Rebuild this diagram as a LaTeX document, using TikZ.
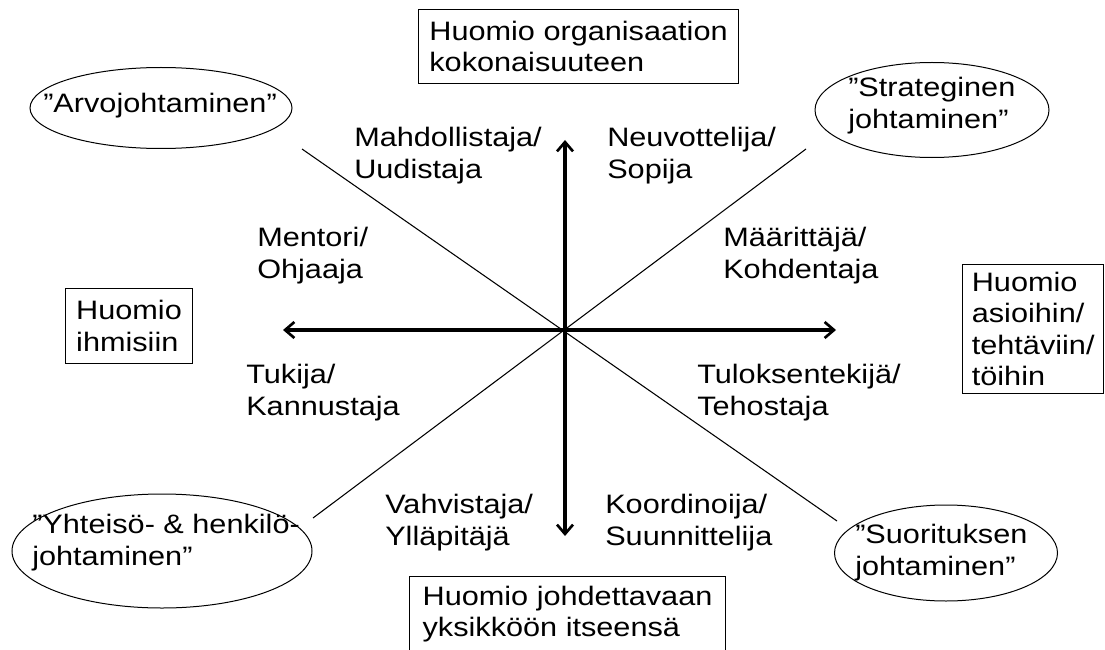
\documentclass[tikz,border=0pt]{standalone}
\usepackage{fontspec}
\setmainfont{Liberation Sans}[FakeStretch=1.15]
\usetikzlibrary{arrows.meta,shapes.geometric}

\begin{document}
\begin{tikzpicture}[x=0.75pt,y=-0.75pt,
  every node/.style={font=\fontsize{20}{23.6}\selectfont},
  lbl/.style={anchor=base west, inner sep=0pt, align=left},
  box/.style={draw, line width=0.8pt, rectangle, inner sep=0pt, align=left, anchor=north west},
  ell/.style={draw, line width=0.75pt, ellipse, inner sep=0pt},
  axtip/.tip={Straight Barb[length=7pt,width=12pt,line width=2pt]},
  axis/.style={line width=2.3pt, axtip-axtip},
  diag/.style={line width=0.8pt}]

\useasboundingbox (0,0) rectangle (1105,649);

% axes and diagonals
\coordinate (top) at (565,140);
\coordinate (bottom) at (565,536);
\coordinate (left) at (283,330);
\coordinate (right) at (836,330);
\coordinate (nw) at (302,149);
\coordinate (se) at (837,521);
\coordinate (ne) at (806,149);
\coordinate (sw) at (313,518);

\draw[diag] (nw) -- (se);
\draw[diag] (ne) -- (sw);
\draw[axis] (bottom) -- (top);
\draw[axis] (left) -- (right);

% focus boxes
\node[box, minimum width=240pt, minimum height=55.5pt] (btop) at (418,9)
  {Huomio organisaation\\kokonaisuuteen};
\node[box, minimum width=95.25pt, minimum height=56.25pt] (bleft) at (65,288)
  {Huomio\\ihmisiin};
\node[box, minimum width=106pt, minimum height=96.75pt] (bright) at (962,264)
  {Huomio\\asioihin/\\tehtäviin/\\töihin};
\node[box, minimum width=237pt, minimum height=56.7pt] (bbottom) at (409,576)
  {Huomio johdettavaan\\yksikköön itseensä};

% leadership styles: outlines
\node[ell, minimum width=196.5pt, minimum height=60.75pt] (arvo) at (161,108) {};
\node[ell, minimum width=175.5pt, minimum height=71.25pt] (strat) at (932,110) {};
\node[ell, minimum width=225pt, minimum height=85.5pt] (yht) at (162,551) {};
\node[ell, minimum width=167.25pt, minimum height=72pt] (suor) at (946,553) {};

% leadership styles: names
\node[lbl] (arvot) at (43,113) {”Arvojohtaminen”};
\node[lbl] (stratt) at (848,128) {”Strateginen\\johtaminen”};
\node[lbl] (yhtt) at (32,565) {”Yhteisö- \& henkilö-\\johtaminen”};
\node[lbl] (suort) at (855,575) {”Suorituksen\\johtaminen”};

% roles
\node[lbl] (mahd) at (354,178) {Mahdollistaja/\\Uudistaja};
\node[lbl] (neuv) at (607,178) {Neuvottelija/\\Sopija};
\node[lbl] (ment) at (257,278) {Mentori/\\Ohjaaja};
\node[lbl] (maar) at (723,278) {Määrittäjä/\\Kohdentaja};
\node[lbl] (tuki) at (246,415) {Tukija/\\Kannustaja};
\node[lbl] (tulo) at (697,415) {Tuloksentekijä/\\Tehostaja};
\node[lbl] (vahv) at (385,545) {Vahvistaja/\\Ylläpitäjä};
\node[lbl] (koor) at (605,545) {Koordinoija/\\Suunnittelija};
\end{tikzpicture}
\end{document}
